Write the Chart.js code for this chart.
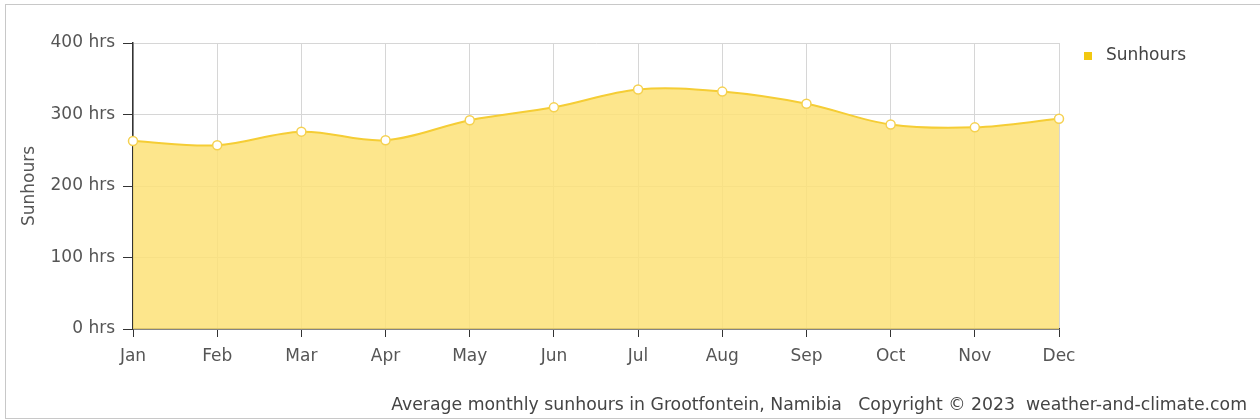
<!DOCTYPE html>
<html>
<head>
<meta charset="utf-8">
<script src="https://cdn.jsdelivr.net/npm/chart.js@4"></script>
<style>
  body { margin: 0; background: #fff; overflow: hidden; }
  #wrap { position: relative; width: 1260px; height: 420px; }
  #frame { position: absolute; left: 5px; top: 4px; width: 1270px; height: 415px; border: 1px solid #c8c8c8; box-sizing: border-box; pointer-events: none; }
</style>
</head>
<body>
<div id="wrap">
  <canvas id="sun" width="1260" height="420"></canvas>
  <div id="frame"></div>
</div>
<script>
const months = ['Jan', 'Feb', 'Mar', 'Apr', 'May', 'Jun', 'Jul', 'Aug', 'Sep', 'Oct', 'Nov', 'Dec'];
const sunhours = [263, 257, 276, 264, 292, 310, 335, 332, 315, 286, 282, 294];
const yTicks = [0, 100, 200, 300, 400];
const caption = 'Average monthly sunhours in Grootfontein, Namibia   Copyright © 2023  weather-and-climate.com';

const fontFamily = "'DejaVu Sans', sans-serif";
Chart.defaults.font.family = fontFamily;
Chart.defaults.font.size = 17;
Chart.defaults.color = '#555';

// legend at the top right and the caption at the bottom right, drawn by hand
const extras = {
  id: 'extras',
  afterDraw(chart) {
    const ctx = chart.ctx;
    const ds = chart.data.datasets[0];
    const x = chart.chartArea.right + 25;
    const y = 56;
    ctx.save();
    ctx.fillStyle = '#f2c811';
    ctx.fillRect(x, y - 4, 8, 8);
    ctx.fillStyle = '#444';
    ctx.font = '17px ' + fontFamily;
    ctx.textBaseline = 'middle';
    ctx.fillText(ds.label, x + 22, y);
    ctx.font = '17.3px ' + fontFamily;
    ctx.textAlign = 'right';
    ctx.fillText(caption, 1247, 406);
    ctx.restore();
  }
};

const chart = new Chart(document.getElementById('sun'), {
  type: 'line',
  data: {
    labels: months,
    datasets: [{
      label: 'Sunhours',
      data: sunhours,
      fill: 'origin',
      backgroundColor: 'rgba(253, 226, 120, 0.85)',
      borderColor: '#f5cd35',
      borderWidth: 2,
      tension: 0.35,
      pointRadius: 4.5,
      pointBackgroundColor: '#fff',
      pointBorderColor: '#f5d150',
      pointBorderWidth: 1.5
    }]
  },
  options: {
    responsive: false,
    animation: false,
    layout: { padding: { left: 0, right: 201, top: 43, bottom: 51 } },
    plugins: {
      legend: { display: false },
      tooltip: { enabled: false }
    },
    scales: {
      x: {
        offset: false,
        grid: { color: '#d6d6d6', tickColor: '#333', tickLength: 8 },
        border: { color: '#333', width: 1.5 },
        ticks: { color: '#555', padding: 9, maxRotation: 0 },
        afterFit: (axis) => { axis.height = 40; }
      },
      y: {
        min: 0,
        max: 400,
        afterBuildTicks: (axis) => { axis.ticks = yTicks.map(v => ({ value: v })); },
        afterFit: (axis) => { axis.width = 133; },
        grid: { color: '#d6d6d6', tickColor: '#333', tickLength: 10 },
        border: { color: '#333', width: 1.5 },
        ticks: { color: '#555', padding: 8, callback: (v) => v + ' hrs' },
        title: { display: true, text: 'Sunhours', color: '#555', font: { size: 17 }, padding: { top: 19, bottom: 0 } }
      }
    }
  },
  plugins: [extras]
});
</script>
</body>
</html>
